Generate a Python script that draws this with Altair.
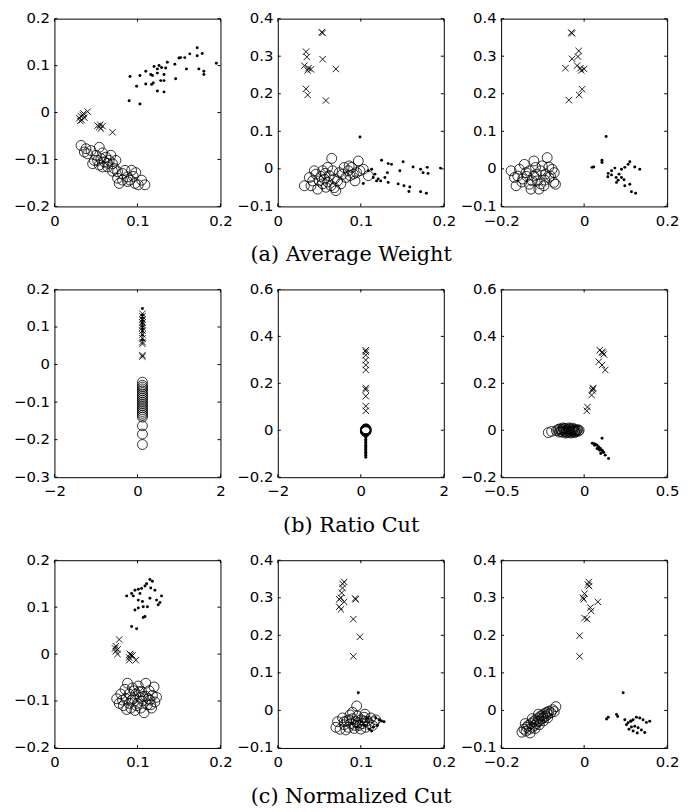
import altair as alt
import pandas as pd

# ---------------- data ----------------
# (a) Average Weight
AW1_CIRCLES = [(0.032,-0.070),(0.038,-0.077),(0.044,-0.081),(0.040,-0.088),(0.054,-0.074),(0.050,-0.091),
               (0.056,-0.098),(0.052,-0.102),(0.062,-0.095),(0.060,-0.105),(0.066,-0.102),(0.070,-0.109),
               (0.064,-0.116),(0.058,-0.116),(0.072,-0.119),(0.076,-0.126),(0.082,-0.130),(0.076,-0.140),
               (0.085,-0.123),(0.088,-0.137),(0.093,-0.123),(0.091,-0.144),(0.097,-0.151),(0.101,-0.154),
               (0.109,-0.154),(0.105,-0.144),(0.082,-0.144),(0.078,-0.151),(0.048,-0.102),(0.046,-0.109),
               (0.054,-0.112),(0.068,-0.091),(0.074,-0.102),(0.036,-0.084),(0.058,-0.086),(0.064,-0.108),
               (0.088,-0.147),(0.095,-0.136),(0.098,-0.128),(0.070,-0.125)]
AW1_CROSSES = [(0.030,-0.012),(0.032,-0.008),(0.033,-0.016),(0.034,-0.005),(0.036,-0.011),(0.035,-0.002),
               (0.040,0.002),(0.031,-0.018),(0.052,-0.028),(0.054,-0.031),(0.056,-0.034),(0.058,-0.029),
               (0.055,-0.026),(0.070,-0.042)]
AW1_DOTS = [(0.090,0.025),(0.103,0.018),(0.091,0.077),(0.099,0.056),(0.103,0.079),(0.110,0.088),(0.110,0.061),
            (0.116,0.081),(0.117,0.060),(0.120,0.098),(0.119,0.063),(0.118,0.079),(0.124,0.093),(0.126,0.100),
            (0.124,0.084),(0.129,0.096),(0.128,0.068),(0.124,0.046),(0.132,0.068),(0.132,0.081),(0.134,0.095),
            (0.132,0.044),(0.136,0.107),(0.145,0.103),(0.146,0.072),(0.150,0.116),(0.152,0.117),(0.157,0.117),
            (0.159,0.093),(0.163,0.125),(0.172,0.138),(0.172,0.121),(0.174,0.093),(0.178,0.126),(0.180,0.088),
            (0.180,0.081),(0.195,0.105)]

AW2_CIRCLES = [(0.032,-0.045),(0.038,-0.023),(0.040,-0.045),(0.046,-0.014),(0.050,-0.032),(0.054,-0.005),
               (0.056,-0.027),(0.058,-0.049),(0.062,-0.018),(0.064,-0.045),(0.065,0.028),(0.068,-0.027),
               (0.070,-0.058),(0.074,-0.010),(0.076,-0.040),(0.080,0.004),(0.082,-0.023),(0.085,-0.005),
               (0.089,0.004),(0.091,-0.014),(0.093,-0.032),(0.097,0.021),(0.099,-0.005),(0.103,-0.001),
               (0.109,-0.018),(0.048,-0.054),(0.042,-0.032),(0.054,-0.040),(0.060,0.004),(0.078,-0.014),
               (0.087,-0.018),(0.072,-0.032),(0.066,-0.005),(0.044,-0.005),(0.060,-0.035),(0.052,-0.020),
               (0.086,0.008),(0.095,-0.010),(0.068,-0.050),(0.057,-0.012)]
AW2_CROSSES = [(0.053,0.364),(0.054,0.362),(0.034,0.312),(0.035,0.298),(0.032,0.275),(0.037,0.268),
               (0.040,0.265),(0.034,0.213),(0.036,0.197),(0.054,0.292),(0.070,0.266),(0.058,0.182),
               (0.036,0.262)]
AW2_DOTS = [(0.099,0.085),(0.125,0.023),(0.133,0.014),(0.137,0.012),(0.151,0.019),(0.163,0.005),(0.172,-0.001),
            (0.180,0.004),(0.175,-0.010),(0.181,-0.012),(0.196,0.002),(0.147,-0.005),(0.145,-0.040),
            (0.152,-0.045),(0.159,-0.048),(0.158,-0.060),(0.172,-0.061),(0.179,-0.065),(0.133,-0.036),
            (0.129,-0.023),(0.121,-0.027),(0.117,-0.014),(0.119,-0.032),(0.124,-0.032),(0.109,-0.005),
            (0.113,-0.001),(0.103,-0.039),(0.115,-0.023),(0.132,-0.010)]

AW3_CIRCLES = [(-0.176,-0.005),(-0.168,-0.023),(-0.156,-0.001),(-0.148,-0.027),(-0.140,-0.010),(-0.132,-0.041),
               (-0.128,-0.054),(-0.121,0.021),(-0.121,-0.019),(-0.113,-0.032),(-0.105,-0.005),(-0.101,0.008),
               (-0.097,-0.045),(-0.089,0.030),(-0.085,-0.023),(-0.077,-0.001),(-0.073,-0.036),(-0.069,-0.041),
               (-0.164,-0.045),(-0.144,0.012),(-0.109,-0.054),(-0.132,-0.005),(-0.093,-0.014),(-0.117,0.004),
               (-0.160,-0.019),(-0.125,-0.032),(-0.081,-0.019),(-0.150,-0.035),(-0.138,-0.020),(-0.105,-0.040),
               (-0.095,-0.030),(-0.115,-0.015),(-0.085,0.005),(-0.072,-0.010)]
AW3_CROSSES = [(-0.031,0.363),(-0.029,0.361),(-0.013,0.314),(-0.015,0.299),(-0.029,0.293),(-0.017,0.275),
               (-0.009,0.268),(0.000,0.266),(-0.045,0.268),(-0.005,0.212),(-0.012,0.197),(-0.037,0.183),
               (-0.007,0.262)]
AW3_DOTS = [(0.053,0.086),(0.019,0.004),(0.023,0.005),(0.043,0.023),(0.043,0.017),(0.057,-0.021),(0.058,-0.012),
            (0.066,-0.005),(0.074,0.002),(0.077,-0.023),(0.082,-0.030),(0.090,-0.001),(0.098,0.004),(0.106,0.012),
            (0.110,0.019),(0.122,0.005),(0.134,-0.001),(0.090,-0.023),(0.096,-0.029),(0.098,-0.045),(0.110,-0.041),
            (0.114,-0.061),(0.124,-0.065),(0.078,-0.036),(0.066,-0.016),(0.084,-0.014)]

# (b) Ratio Cut
RC1_CIRCLES = [(0.12,-0.047),(0.12,-0.055),(0.12,-0.060),(0.12,-0.065),(0.12,-0.070),(0.12,-0.075),(0.12,-0.080),
               (0.12,-0.085),(0.12,-0.090),(0.12,-0.095),(0.12,-0.100),(0.12,-0.105),(0.12,-0.110),(0.12,-0.115),
               (0.12,-0.120),(0.12,-0.125),(0.12,-0.130),(0.12,-0.135),(0.12,-0.140),(0.12,-0.163),(0.12,-0.185),
               (0.12,-0.213)]
RC1_CROSSES = [(0.12,0.021),(0.12,0.025),(0.12,0.055),(0.12,0.060),(0.12,0.070),(0.12,0.080),(0.12,0.090),
               (0.12,0.098),(0.12,0.105),(0.12,0.112),(0.12,0.120),(0.12,0.128),(0.12,0.135)]
RC1_DOTS = [(0.12,0.149),(0.12,0.132),(0.12,0.124),(0.12,0.117),(0.12,0.110),(0.12,0.102),(0.12,0.095),
            (0.12,0.088),(0.12,0.078),(0.12,0.066)]

RC2_CIRCLES = [(0.12,0.006),(0.12,0.004),(0.12,0.002),(0.12,0.0),(0.12,-0.002),(0.12,-0.004),(0.12,-0.006),
               (0.11,0.003),(0.13,-0.003),(0.11,-0.005),(0.13,0.005),(0.12,0.001),(0.12,-0.001),(0.12,0.003),
               (0.12,-0.003)]
RC2_CROSSES = [(0.12,0.341),(0.12,0.334),(0.12,0.320),(0.12,0.299),(0.12,0.278),(0.12,0.257),(0.12,0.180),
               (0.12,0.173),(0.12,0.145),(0.12,0.103),(0.12,0.083)]
RC2_DOTS = [(0.12,-0.022),(0.12,-0.030),(0.12,-0.038),(0.12,-0.045),(0.12,-0.052),(0.12,-0.058),(0.12,-0.064),
            (0.12,-0.070),(0.12,-0.076),(0.12,-0.082),(0.12,-0.088),(0.12,-0.094),(0.12,-0.100),(0.12,-0.107),
            (0.12,-0.115)]

RC3_CIRCLES = [(-0.216,-0.010),(-0.196,-0.005),(-0.167,-0.002),(-0.155,0.004),(-0.150,-0.008),(-0.145,0.006),
               (-0.140,-0.005),(-0.135,0.002),(-0.130,-0.008),(-0.125,0.005),(-0.120,-0.003),(-0.115,0.008),
               (-0.110,-0.006),(-0.105,0.001),(-0.100,-0.010),(-0.095,0.004),(-0.090,-0.004),(-0.085,0.007),
               (-0.080,-0.008),(-0.075,0.002),(-0.070,-0.005),(-0.065,0.004),(-0.060,-0.002),(-0.055,0.001),
               (-0.050,-0.006),(-0.128,0.010),(-0.112,-0.012),(-0.092,0.010),(-0.078,-0.012),(-0.068,0.009),
               (-0.058,-0.010),(-0.045,-0.002),(-0.040,0.003),(-0.035,-0.004),(-0.030,0.000)]
RC3_CROSSES = [(0.094,0.341),(0.108,0.334),(0.118,0.323),(0.112,0.330),(0.088,0.292),(0.108,0.278),
               (0.127,0.257),(0.055,0.180),(0.052,0.176),(0.049,0.169),(0.045,0.150),(0.020,0.099),(0.016,0.083)]
RC3_DOTS = [(0.049,-0.055),(0.059,-0.057),(0.063,-0.064),(0.068,-0.060),(0.078,-0.064),(0.088,-0.071),
            (0.098,-0.078),(0.108,-0.085),(0.118,-0.095),(0.127,-0.106),(0.147,-0.120),(0.108,-0.034),
            (0.094,-0.085),(0.078,-0.078),(0.100,-0.099),(0.112,-0.092),(0.085,-0.080)]

# (c) Normalized Cut
NC1_CIRCLES = [(0.075,-0.095),(0.078,-0.105),(0.080,-0.085),(0.083,-0.110),(0.085,-0.075),(0.086,-0.095),
               (0.088,-0.062),(0.090,-0.105),(0.090,-0.085),(0.092,-0.115),(0.094,-0.072),(0.095,-0.095),
               (0.097,-0.120),(0.098,-0.085),(0.100,-0.105),(0.101,-0.068),(0.103,-0.092),(0.104,-0.115),
               (0.105,-0.080),(0.106,-0.100),(0.108,-0.125),(0.110,-0.062),(0.110,-0.090),(0.112,-0.108),
               (0.114,-0.078),(0.115,-0.098),(0.117,-0.115),(0.118,-0.088),(0.120,-0.070),(0.121,-0.102),
               (0.123,-0.092),(0.082,-0.098),(0.093,-0.098),(0.099,-0.110),(0.107,-0.090),(0.113,-0.095),
               (0.087,-0.118),(0.116,-0.108),(0.102,-0.080),(0.096,-0.078)]
NC1_CROSSES = [(0.078,0.031),(0.074,0.017),(0.076,0.010),(0.074,0.006),(0.076,0.000),(0.073,0.012),
               (0.091,0.000),(0.090,-0.007),(0.094,-0.003),(0.098,-0.013),(0.090,-0.013),(0.092,-0.002)]
NC1_DOTS = [(0.115,0.159),(0.118,0.155),(0.111,0.150),(0.109,0.145),(0.105,0.140),(0.101,0.138),(0.097,0.136),
            (0.093,0.129),(0.087,0.124),(0.095,0.124),(0.103,0.129),(0.101,0.115),(0.106,0.112),(0.115,0.119),
            (0.123,0.115),(0.125,0.105),(0.129,0.124),(0.121,0.136),(0.116,0.141),(0.112,0.101),(0.107,0.101),
            (0.101,0.098),(0.097,0.094),(0.109,0.080),(0.107,0.078),(0.093,0.059),(0.099,0.054),(0.127,0.110)]

NC2_CIRCLES = [(0.095,0.012),(0.070,-0.045),(0.072,-0.030),(0.075,-0.050),(0.078,-0.020),(0.080,-0.038),
               (0.083,-0.028),(0.085,-0.045),(0.087,-0.012),(0.088,-0.035),(0.090,-0.022),(0.092,-0.048),
               (0.094,-0.030),(0.096,-0.015),(0.098,-0.040),(0.100,-0.025),(0.102,-0.035),(0.104,-0.018),
               (0.106,-0.045),(0.108,-0.028),(0.110,-0.035),(0.112,-0.020),(0.114,-0.040),(0.116,-0.030),
               (0.118,-0.025),(0.082,-0.052),(0.090,-0.005),(0.100,-0.050),(0.105,-0.010),(0.086,-0.025),
               (0.097,-0.033),(0.093,-0.040),(0.103,-0.028),(0.080,-0.030)]
NC2_CROSSES = [(0.080,0.342),(0.078,0.337),(0.078,0.326),(0.077,0.313),(0.076,0.300),(0.074,0.296),
               (0.080,0.289),(0.076,0.269),(0.074,0.276),(0.093,0.298),(0.094,0.296),(0.091,0.243),
               (0.099,0.196),(0.091,0.144)]
NC2_DOTS = [(0.097,0.047),(0.118,-0.020),(0.122,-0.025),(0.125,-0.028),(0.128,-0.030),(0.120,-0.040),
            (0.115,-0.045),(0.110,-0.050),(0.113,-0.055),(0.105,-0.040),(0.100,-0.030),(0.108,-0.020),
            (0.095,-0.045),(0.090,-0.035)]

NC3_CIRCLES = [(-0.150,-0.058),(-0.145,-0.050),(-0.140,-0.055),(-0.138,-0.045),(-0.135,-0.040),(-0.132,-0.050),
               (-0.128,-0.035),(-0.125,-0.045),(-0.122,-0.030),(-0.120,-0.040),(-0.117,-0.025),(-0.115,-0.035),
               (-0.112,-0.030),(-0.110,-0.020),(-0.107,-0.028),(-0.105,-0.015),(-0.102,-0.022),(-0.100,-0.012),
               (-0.097,-0.018),(-0.095,-0.008),(-0.092,-0.015),(-0.090,-0.005),(-0.087,-0.010),(-0.085,-0.002),
               (-0.080,-0.006),(-0.076,0.002),(-0.072,-0.003),(-0.068,0.010),(-0.130,-0.060),(-0.118,-0.048),
               (-0.108,-0.038),(-0.098,-0.028),(-0.088,-0.020),(-0.142,-0.035),(-0.125,-0.022),(-0.110,-0.010)]
NC3_CROSSES = [(0.011,0.342),(0.009,0.335),(0.012,0.331),(0.001,0.311),(-0.003,0.300),(-0.001,0.296),
               (0.033,0.289),(0.015,0.274),(0.017,0.265),(0.001,0.246),(0.007,0.243),(-0.011,0.199),
               (-0.011,0.144)]
NC3_DOTS = [(0.094,0.047),(0.054,-0.023),(0.058,-0.018),(0.078,-0.011),(0.081,-0.016),(0.098,-0.025),
            (0.102,-0.038),(0.106,-0.033),(0.113,-0.029),(0.118,-0.025),(0.126,-0.018),(0.134,-0.020),
            (0.142,-0.025),(0.150,-0.032),(0.158,-0.029),(0.114,-0.044),(0.122,-0.042),(0.130,-0.046),
            (0.146,-0.059),(0.108,-0.050),(0.118,-0.055),(0.128,-0.060),(0.138,-0.052),(0.112,-0.028)]

# axis ticks per panel (first and last are the domain ends)
X_A = [0, 0.1, 0.2]
X_B = [-0.2, 0, 0.2]
Y_A = [-0.2, -0.1, 0, 0.1, 0.2]
Y_B = [-0.1, 0, 0.1, 0.2, 0.3, 0.4]
X_RC = [-2, 0, 2]
X_RC3 = [-0.5, 0, 0.5]
Y_RC1 = [-0.3, -0.2, -0.1, 0, 0.1, 0.2]
Y_RC2 = [-0.2, 0, 0.2, 0.4, 0.6]

CAPTIONS = ["(a) Average Weight", "(b) Ratio Cut", "(c) Normalized Cut"]

# ---------------- chart ----------------
W, H = 168, 190
TICK = 3
LABEL_FONT = "DejaVu Sans"
LABEL_SIZE = 15
X_SHAPE = "M-1,-1L1,1M-1,1L1,-1"


def make_axis(vals, pad, offset=0):
    return alt.Axis(values=vals, format="~g",
                    ticks=False, domain=False, grid=False, title=None,
                    labelFont=LABEL_FONT, labelFontSize=LABEL_SIZE, labelColor="black",
                    labelPadding=pad, labelOffset=offset, labelFlush=False, labelOverlap=False)


def panel(circles, crosses, dots, xt, yt):
    xs = alt.Scale(domain=[xt[0], xt[-1]], nice=False, zero=False)
    ys = alt.Scale(domain=[yt[0], yt[-1]], nice=False, zero=False)
    xax = make_axis(xt, 7)
    yax = make_axis(yt, 5, -1)
    xenc = alt.X("x:Q", scale=xs, axis=xax, title=None)
    yenc = alt.Y("y:Q", scale=ys, axis=yax, title=None)

    def df(lst):
        return pd.DataFrame(lst, columns=["x", "y"])

    c = alt.Chart(df(circles)).mark_point(shape="circle", filled=False, size=100, color="black",
                                          strokeWidth=0.8, opacity=1).encode(x=xenc, y=yenc)
    x = alt.Chart(df(crosses)).mark_point(shape=X_SHAPE, filled=False, size=42, color="black",
                                          strokeWidth=0.9, opacity=1).encode(x=xenc, y=yenc)
    d = alt.Chart(df(dots)).mark_circle(size=9, color="black", opacity=1).encode(x=xenc, y=yenc)

    xtd = pd.DataFrame({"x": xt})
    ytd = pd.DataFrame({"y": yt})
    rx = dict(color="black", strokeWidth=1)
    xb = alt.Chart(xtd).mark_rule(**rx).encode(x=xenc, y=alt.value(H), y2=alt.value(H - TICK))
    xtop = alt.Chart(xtd).mark_rule(**rx).encode(x=xenc, y=alt.value(0), y2=alt.value(TICK))
    yl = alt.Chart(ytd).mark_rule(**rx).encode(y=yenc, x=alt.value(0), x2=alt.value(TICK))
    yr = alt.Chart(ytd).mark_rule(**rx).encode(y=yenc, x=alt.value(W), x2=alt.value(W - TICK))
    return alt.layer(c, x, d, xb, xtop, yl, yr).properties(width=W, height=H)


def row(panels, caption):
    return alt.hconcat(*panels, spacing=58, bounds="flush").properties(
        title=alt.TitleParams(text=caption, orient="bottom", anchor="middle", font="DejaVu Serif",
                              fontSize=21, fontWeight="normal", color="black", offset=16, dx=5))


r1 = row([panel(AW1_CIRCLES, AW1_CROSSES, AW1_DOTS, X_A, Y_A),
          panel(AW2_CIRCLES, AW2_CROSSES, AW2_DOTS, X_A, Y_B),
          panel(AW3_CIRCLES, AW3_CROSSES, AW3_DOTS, X_B, Y_B)], CAPTIONS[0])
r2 = row([panel(RC1_CIRCLES, RC1_CROSSES, RC1_DOTS, X_RC, Y_RC1),
          panel(RC2_CIRCLES, RC2_CROSSES, RC2_DOTS, X_RC, Y_RC2),
          panel(RC3_CIRCLES, RC3_CROSSES, RC3_DOTS, X_RC3, Y_RC2)], CAPTIONS[1])
r3 = row([panel(NC1_CIRCLES, NC1_CROSSES, NC1_DOTS, X_A, Y_A),
          panel(NC2_CIRCLES, NC2_CROSSES, NC2_DOTS, X_A, Y_B),
          panel(NC3_CIRCLES, NC3_CROSSES, NC3_DOTS, X_B, Y_B)], CAPTIONS[2])

chart = alt.vconcat(r1, r2, r3, spacing=15).properties(
    padding={"left": 5, "top": -3, "right": 0, "bottom": 0}, background="white"
).configure_view(stroke="black", strokeWidth=1, fill="white")

chart.save("out.html", embed_options={"renderer": "svg", "actions": False})
